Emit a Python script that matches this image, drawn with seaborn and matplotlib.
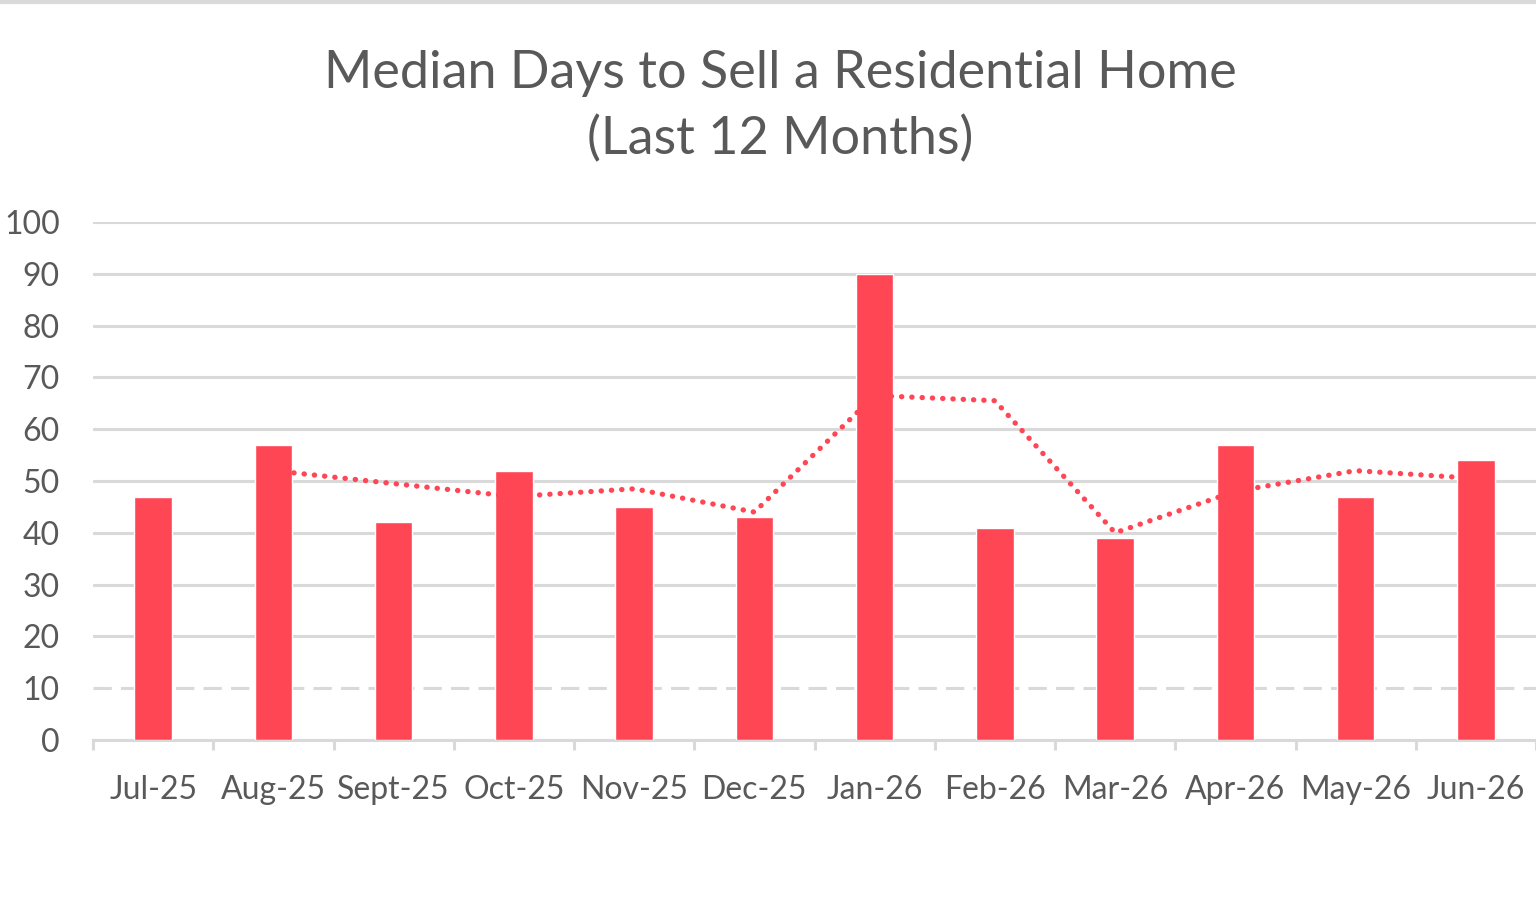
import numpy as np
import pandas as pd
import seaborn as sns
import matplotlib.pyplot as plt
from matplotlib.ticker import FixedLocator
from matplotlib.lines import Line2D

months = ["Jul-25", "Aug-25", "Sept-25", "Oct-25", "Nov-25", "Dec-25",
          "Jan-26", "Feb-26", "Mar-26", "Apr-26", "May-26", "Jun-26"]
median_days = [47, 57, 42, 52, 45, 43, 90, 41, 39, 57, 47, 54]
# 2-period moving average trendline (starts at Aug-25)
trend_days = [np.nan, 52, 49.5, 47, 48.5, 44, 66.5, 65.5, 40, 48, 52, 50.5]
y_ticks = [0, 10, 20, 30, 40, 50, 60, 70, 80, 90, 100]

bar_color = "#FF4655"
grid_color = "#D9D9D9"
text_color = "#595959"

sns.set_style("white")
plt.rcParams["font.family"] = ["Lato", "DejaVu Sans"]

df = pd.DataFrame({"Month": months, "Days": median_days, "Trend": trend_days})

fig = plt.figure(figsize=(15.36, 9), dpi=100)
ax = fig.add_axes([93/1536, 160/900, 1 - 93/1536, 518/900])

sns.barplot(data=df, x="Month", y="Days", color=bar_color, saturation=1,
            width=0.31, ax=ax, zorder=3)
line = sns.lineplot(x=np.arange(len(months)), y=df["Trend"], color=bar_color,
                    linewidth=3.8, ax=ax, zorder=4).lines[-1]
line.set_linestyle((0, (0.05, 1.9)))
line.set_dash_capstyle("round")

ax.set_xlim(-0.5, len(months) - 0.5)
ax.set_ylim(0, 100)
ax.set_yticks(y_ticks)
ax.set_xlabel("")
ax.set_ylabel("")

ax.yaxis.grid(True, color=grid_color, linewidth=2.2, zorder=0)
ax.set_axisbelow(True)
ax.get_ygridlines()[1].set_linestyle((0, (6, 3)))

for side in ["top", "right", "left"]:
    ax.spines[side].set_visible(False)
ax.spines["bottom"].set_color(grid_color)
ax.spines["bottom"].set_linewidth(2.2)

ax.tick_params(axis="y", length=0, pad=24, labelsize=23, labelcolor=text_color)
ax.tick_params(axis="x", which="major", length=0, pad=25, labelsize=23,
               labelcolor=text_color)
ax.xaxis.set_minor_locator(FixedLocator(np.arange(-0.5, len(months), 1.0)))
ax.tick_params(axis="x", which="minor", bottom=True, length=7, width=2.2,
               color=grid_color, direction="out")

fig.text(0.508, 0.918, "Median Days to Sell a Residential Home",
         ha="center", va="center", fontsize=37.5, color=text_color)
fig.text(0.508, 0.845, "(Last 12 Months)",
         ha="center", va="center", fontsize=37.5, color=text_color)

fig.add_artist(Line2D([0, 1], [0.998, 0.998], color="#D9D9D9", linewidth=3,
                      transform=fig.transFigure))

plt.savefig("out.png", dpi=100)
plt.close()
